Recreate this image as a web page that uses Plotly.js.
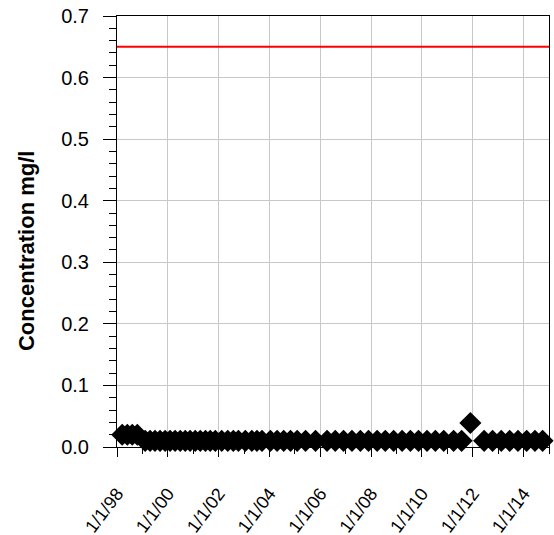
<!DOCTYPE html>
<html>
<head>
<meta charset="utf-8">
<script src="https://cdn.plot.ly/plotly-3.0.1.min.js"></script>
<style>
  html, body { margin: 0; padding: 0; background: #fff; }
  #chart { width: 554px; height: 535px; }
</style>
</head>
<body>
<div id="chart"></div>
<script>
// Sample dates and concentrations (mg/l)
const sampleDates = [
  "1998-03-17", "1998-05-29", "1998-08-08", "1998-10-20",
  "1999-02-10", "1999-04-22", "1999-07-01", "1999-09-12", "1999-11-24",
  "2000-02-03", "2000-04-15", "2000-06-28", "2000-09-08", "2000-11-17",
  "2001-01-30", "2001-04-12", "2001-06-25", "2001-09-02", "2001-11-14",
  "2002-02-14", "2002-05-12", "2002-07-31", "2002-10-12",
  "2003-01-19", "2003-04-23", "2003-07-05", "2003-09-16",
  "2004-01-15", "2004-04-20", "2004-07-24", "2004-10-30",
  "2005-02-03", "2005-06-03", "2005-10-24",
  "2006-04-08", "2006-08-04", "2006-12-01",
  "2007-04-01", "2007-07-31", "2007-11-25",
  "2008-03-28", "2008-07-23", "2008-11-20",
  "2009-03-22", "2009-07-19", "2009-11-13",
  "2010-03-15", "2010-07-13", "2010-11-10",
  "2011-04-01", "2011-07-25", "2011-11-28",
  "2012-06-13", "2012-10-12", "2013-02-14",
  "2013-06-15", "2013-10-12", "2014-02-14",
  "2014-06-13", "2014-10-01"
];
const concentrations = [
  0.02, 0.02, 0.02, 0.02,
  0.01, 0.01, 0.01, 0.01, 0.01,
  0.01, 0.01, 0.01, 0.01, 0.01,
  0.01, 0.01, 0.01, 0.01, 0.01,
  0.01, 0.01, 0.01, 0.01,
  0.01, 0.01, 0.01, 0.01,
  0.01, 0.01, 0.01, 0.01,
  0.01, 0.01, 0.01,
  0.01, 0.01, 0.01,
  0.01, 0.01, 0.01,
  0.01, 0.01, 0.01,
  0.01, 0.01, 0.01,
  0.01, 0.01, 0.01,
  0.01, 0.01, 0.039,
  0.01, 0.01, 0.01,
  0.01, 0.01, 0.01,
  0.01, 0.01
];
// Guideline value (red line)
const limitDates = ["1998-01-01", "2015-01-01"];
const limitValues = [0.65, 0.65];

const xRange = ["1998-01-01", "2015-01-01"];
const yRange = [0, 0.7];
const yTitle = "Concentration mg/l";

const font = "Liberation Sans, Arial, sans-serif";

const traces = [
  {
    x: limitDates, y: limitValues, type: "scatter", mode: "lines",
    line: { color: "#ff0000", width: 2 }, hoverinfo: "skip", showlegend: false
  },
  {
    x: sampleDates, y: concentrations, type: "scatter", mode: "markers",
    marker: { symbol: "diamond", size: 17, color: "#000000", line: { width: 0 } },
    cliponaxis: false, showlegend: false
  }
];

const layout = {
  width: 554, height: 535,
  margin: { l: 117, r: 5, t: 16, b: 88, pad: 0 },
  paper_bgcolor: "#ffffff", plot_bgcolor: "#ffffff",
  font: { family: font, size: 20, color: "#000000" },
  showlegend: false,
  xaxis: {
    type: "date",
    range: xRange,
    tick0: "1998-01-01",
    dtick: "M24",
    tickformat: "%-m/%-d/%y",
    tickangle: -53,
    ticks: "outside", ticklen: 9, tickwidth: 1, tickcolor: "#000",
    ticklabelstandoff: 19,
    automargin: false,
    showgrid: true, gridcolor: "#c8c8c8", gridwidth: 1,
    showline: true, linecolor: "#000", linewidth: 1, mirror: true,
    zeroline: false,
    minor: { dtick: "M12", ticks: "outside", ticklen: 6, tickcolor: "#000", showgrid: false },
    tickfont: { family: font, size: 18, color: "#000" }
  },
  yaxis: {
    range: yRange,
    dtick: 0.1,
    tickformat: ".1f",
    ticks: "outside", ticklen: 13, tickwidth: 1, tickcolor: "#000",
    ticklabelstandoff: 10,
    automargin: false,
    showgrid: true, gridcolor: "#c8c8c8", gridwidth: 1,
    showline: true, linecolor: "#000", linewidth: 1, mirror: true,
    zeroline: false,
    minor: { dtick: 0.02, ticks: "outside", ticklen: 7, tickcolor: "#000", showgrid: false },
    tickfont: { family: font, size: 20, color: "#000" }
  },
  annotations: [
    {
      text: "<b>" + yTitle + "</b>",
      xref: "paper", yref: "paper",
      x: -0.208, y: 0.455,
      xanchor: "center", yanchor: "middle",
      textangle: -90, showarrow: false,
      font: { family: font, size: 22, color: "#000" }
    }
  ]
};

Plotly.newPlot("chart", traces, layout, { displayModeBar: false, staticPlot: true });
</script>
</body>
</html>
